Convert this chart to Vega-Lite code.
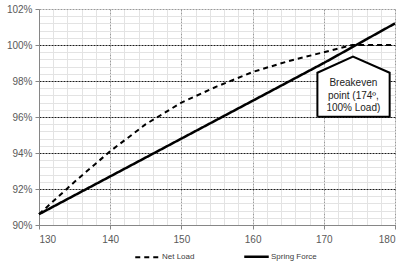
{
  "$schema": "https://vega.github.io/schema/vega-lite/v6.json",
  "width": 356,
  "height": 216,
  "autosize": {"type": "none"},
  "padding": {"left": 39, "top": 9, "right": 21, "bottom": 42},
  "background": "white",
  "config": {
    "view": {"stroke": null},
    "axis": {"labelFont": "Liberation Sans", "labelFontSize": 10, "labelColor": "#595959", "title": null}
  },
  "datasets": {
    "series": [
      {"temp": 130, "pct": 90.6, "series": "Net Load"},
      {"temp": 135, "pct": 92.4, "series": "Net Load"},
      {"temp": 140, "pct": 94.1, "series": "Net Load"},
      {"temp": 145, "pct": 95.6, "series": "Net Load"},
      {"temp": 150, "pct": 96.8, "series": "Net Load"},
      {"temp": 155, "pct": 97.7, "series": "Net Load"},
      {"temp": 160, "pct": 98.5, "series": "Net Load"},
      {"temp": 165, "pct": 99.1, "series": "Net Load"},
      {"temp": 170, "pct": 99.6, "series": "Net Load"},
      {"temp": 174, "pct": 100.0, "series": "Net Load"},
      {"temp": 180, "pct": 100.0, "series": "Net Load"},
      {"temp": 130, "pct": 90.6, "series": "Spring Force"},
      {"temp": 140, "pct": 92.7, "series": "Spring Force"},
      {"temp": 150, "pct": 94.8, "series": "Spring Force"},
      {"temp": 160, "pct": 96.9, "series": "Spring Force"},
      {"temp": 170, "pct": 99.0, "series": "Spring Force"},
      {"temp": 180, "pct": 101.2, "series": "Spring Force"}
    ],
    "callout": [
      {"i": 1, "temp": 169.1, "pct": 96.02},
      {"i": 2, "temp": 169.1, "pct": 98.46},
      {"i": 3, "temp": 174.1, "pct": 99.35},
      {"i": 4, "temp": 179.25, "pct": 98.46},
      {"i": 5, "temp": 179.25, "pct": 96.02},
      {"i": 6, "temp": 169.1, "pct": 96.02}
    ],
    "label": [
      {"temp": 174.15, "pct": 97.87, "text": ["Breakeven", "point (174º,", "100% Load)"]}
    ]
  },
  "layer": [
    {
      "data": {"name": "series"},
      "mark": {"type": "line", "color": "black", "strokeCap": "butt"},
      "encoding": {
        "x": {
          "field": "temp", "type": "quantitative",
          "scale": {"domain": [130, 180], "nice": false, "zero": false},
          "axis": {
            "values": [130,132,134,136,138,140,142,144,146,148,150,152,154,156,158,160,162,164,166,168,170,172,174,176,178,180],
            "tickCount": 200,
            "labelExpr": "datum.value % 10 === 0 ? '' + datum.value : ''",
            "labelOverlap": false,
            "labelPadding": 5,
            "tickSize": 4,
            "tickColor": "#868686",
            "tickOpacity": {"condition": {"test": "datum.value % 10 === 0", "value": 1}, "value": 0},
            "domainColor": "#868686",
            "grid": true,
            "gridColor": {"condition": {"test": "datum.value % 10 === 0", "value": "#9a9a9a"}, "value": "#e3e3e3"},
            "gridDash": {"condition": {"test": "datum.value % 10 === 0", "value": [2, 1]}, "value": []},
            "gridWidth": 1,
            "zindex": 0
          }
        },
        "y": {
          "field": "pct", "type": "quantitative",
          "scale": {"domain": [90, 102], "nice": false, "zero": false},
          "axis": {
            "values": [90,90.4,90.8,91.2,91.6,92,92.4,92.8,93.2,93.6,94,94.4,94.8,95.2,95.6,96,96.4,96.8,97.2,97.6,98,98.4,98.8,99.2,99.6,100,100.4,100.8,101.2,101.6,102],
            "tickCount": 200,
            "labelExpr": "abs(datum.value/2 - round(datum.value/2)) < 0.01 ? datum.value + '%' : ''",
            "labelOverlap": false,
            "labelPadding": 3,
            "tickSize": 4,
            "tickColor": "#868686",
            "tickOpacity": {"condition": {"test": "abs(datum.value/2 - round(datum.value/2)) < 0.01", "value": 1}, "value": 0},
            "domainColor": "#868686",
            "grid": true,
            "gridColor": {"condition": [
              {"test": "datum.value > 101.9", "value": "#9a9a9a"},
              {"test": "abs(datum.value/2 - round(datum.value/2)) < 0.01", "value": "#1a1a1a"}
            ], "value": "#e3e3e3"},
            "gridDash": {"condition": {"test": "abs(datum.value/2 - round(datum.value/2)) < 0.01", "value": [2, 1]}, "value": []},
            "gridWidth": 1,
            "zindex": 0
          }
        },
        "strokeDash": {
          "field": "series", "type": "nominal",
          "scale": {"domain": ["Net Load", "Spring Force"], "range": [[5, 4], [1, 0]]},
          "legend": {
            "title": null,
            "orient": "none",
            "direction": "horizontal",
            "legendX": 95,
            "legendY": 234,
            "padding": 0,
            "symbolType": "stroke",
            "symbolSize": 600,
            "symbolStrokeColor": "black",
            "symbolStrokeWidth": 2,
            "labelFont": "Liberation Sans",
            "labelFontSize": 8,
            "labelColor": "#404040",
            "labelOffset": 1,
            "columnPadding": 44
          }
        },
        "strokeWidth": {
          "field": "series", "type": "nominal",
          "scale": {"domain": ["Net Load", "Spring Force"], "range": [2, 2.5]},
          "legend": null
        }
      }
    },
    {
      "data": {"name": "callout"},
      "mark": {"type": "line", "fill": "white", "stroke": "black", "strokeWidth": 2, "strokeJoin": "miter"},
      "encoding": {
        "x": {"field": "temp", "type": "quantitative"},
        "y": {"field": "pct", "type": "quantitative"},
        "order": {"field": "i", "type": "quantitative"}
      }
    },
    {
      "data": {"name": "label"},
      "mark": {"type": "text", "font": "Liberation Sans", "fontSize": 10, "color": "#222222", "align": "center", "baseline": "middle", "lineHeight": 12.5},
      "encoding": {
        "x": {"field": "temp", "type": "quantitative"},
        "y": {"field": "pct", "type": "quantitative"},
        "text": {"field": "text"}
      }
    }
  ]
}
